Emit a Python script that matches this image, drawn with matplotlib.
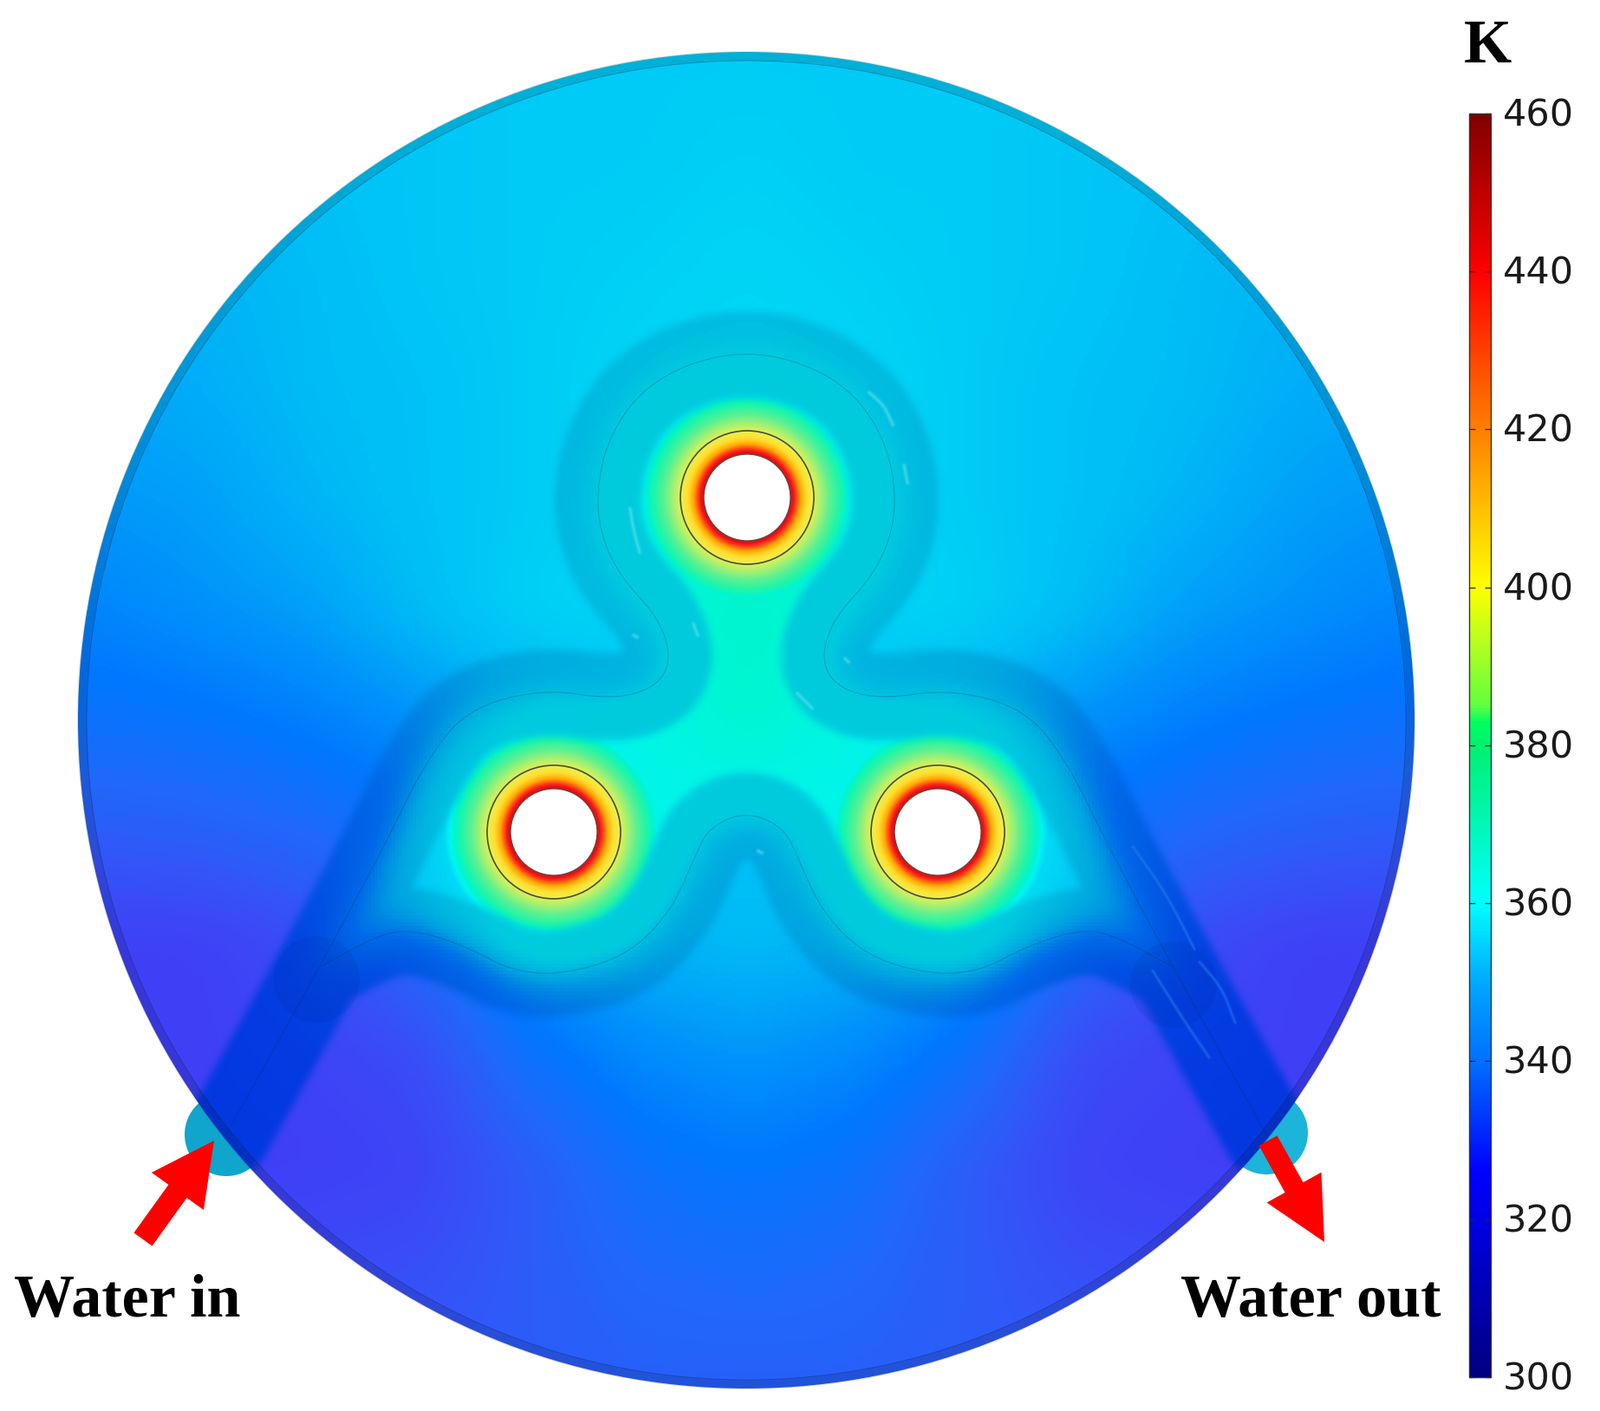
import numpy as np
import matplotlib
matplotlib.use("Agg")
import matplotlib.pyplot as plt
from matplotlib.colors import LinearSegmentedColormap, Normalize, to_rgb
from matplotlib.cm import ScalarMappable
from matplotlib.path import Path
from matplotlib.patches import Circle, Wedge, FancyArrow
from matplotlib.transforms import ScaledTranslation

W, H = 1846, 1628
DPI = 100
T_MIN, T_MAX = 300, 460

grid_x = [93, 221, 349, 477, 605, 733, 861, 989, 1117, 1245, 1373, 1501, 1629]
grid_y = [63, 191, 319, 447, 575, 703, 831, 959, 1087, 1215, 1343, 1471, 1599]
grid_t = [
    [350, 351, 352, 352, 353, 353, 353, 353, 353, 352, 352, 351, 350],
    [349, 350, 351, 352, 353, 353, 354, 353, 353, 352, 351, 350, 349],
    [348, 349, 350, 352, 353, 354, 355, 354, 353, 352, 350, 349, 348],
    [347, 348, 350, 351, 353, 355, 356, 355, 353, 351, 350, 348, 347],
    [345, 346, 349, 351, 353, 355, 356, 355, 353, 351, 349, 346, 345],
    [342, 344, 346, 350, 354, 355, 356, 355, 354, 350, 346, 344, 342],
    [338, 339, 341, 344, 348, 350, 352, 350, 348, 344, 341, 339, 338],
    [332, 333, 335, 338, 346, 351, 351, 351, 346, 338, 335, 333, 332],
    [325, 325, 328, 335, 345, 349, 350, 349, 345, 335, 328, 325, 325],
    [325, 325, 326, 328, 338, 343, 345, 343, 338, 328, 326, 325, 325],
    [327, 325, 325, 326, 332, 338, 340, 338, 332, 326, 325, 325, 327],
    [329, 328, 328, 329, 332, 335, 336, 335, 332, 329, 328, 328, 329],
    [331, 331, 331, 332, 332, 333, 333, 333, 332, 332, 331, 331, 331],
]

# temperature inside the channel loop, K
inner_x = [349, 477, 605, 733, 861, 989, 1117, 1245, 1373]
inner_y = [447, 575, 703, 831, 959, 1087, 1215]
inner_t = [
    [354, 358, 360, 361, 361, 361, 360, 358, 354],
    [354, 358, 361, 362, 363, 362, 361, 358, 354],
    [352, 357, 361, 363, 366, 363, 361, 357, 352],
    [346, 354, 359, 362, 365, 362, 359, 354, 346],
    [340, 354, 361, 362, 360, 362, 361, 354, 340],
    [338, 350, 362, 362, 356, 362, 362, 350, 338],
    [336, 346, 358, 358, 354, 358, 358, 346, 336],
]

# radial temperature around each heater hole
heater_x = [862, 639, 1082]
heater_y = [574, 960, 960]
heater_r = [51, 54, 58, 62, 67, 72, 77, 85, 95, 105, 115, 128, 150]
heater_t = [450, 442, 430, 418, 408, 402, 397, 388, 378, 371, 365, 355, 325]

# cooling channel centre lines, left half (mirrored about the plate axis)
main_pipe_left = [(261, 1309), (350, 1150), (440, 983), (490, 880), (540, 817), (627, 795),
                  (707, 807), (757, 793), (775, 760), (760, 713), (717, 667), (694, 620), (688, 570),
                  (700, 510), (735, 455), (790, 420), (861, 405)]
lower_pipe_left = [(370, 1115), (440, 1077), (480, 1073), (540, 1093), (590, 1120), (647, 1125),
                   (723, 1103), (773, 1053), (800, 993), (817, 955), (861, 936)]

# light streaks in the channel flow, picture pixels
streak_x = [[1003, 1020, 1030], [1043, 1047], [727, 731, 738], [800, 805], [920, 937], [975, 979], [731, 735], [875, 879]]
streak_y = [[453, 468, 490], [537, 557], [587, 612, 637], [720, 733], [800, 817], [760, 764], [733, 735], [982, 984]]
low_streak_x = [[1307, 1345, 1378], [1384, 1410, 1425], [1330, 1365, 1395]]
low_streak_y = [[977, 1030, 1095], [1110, 1140, 1180], [1120, 1176, 1220]]

# colour scales
bar_t = [300, 320, 326, 340, 350, 360, 380, 383, 385, 400, 420, 440, 460]
bar_c = ['#000080', '#0000e6', '#0000ff', '#0070ff', '#00a8ff', '#00ffff', '#00f070', '#00ff60',
         '#60ff40', '#ffff00', '#ff8000', '#ff0000', '#800000']
plate_t = [300, 325, 330, 335, 340, 345, 350, 353, 357, 361, 365, 370, 378, 388, 398, 405, 420, 437, 445, 460]
plate_c = ['#202080', '#4040f6', '#3554f8', '#2068fa', '#0078ff', '#0098fa', '#00bcf6', '#00ccf6',
           '#00e0f5', '#00f5f0', '#00f5d0', '#20f5a8', '#60f090', '#a8f070', '#e8f050', '#ffe030',
           '#ffa000', '#ff3020', '#f01010', '#a02020']

ticks = [300, 320, 340, 360, 380, 400, 420, 440, 460]


def scale(ts, cs, k=(1, 1, 1)):
    pos = (np.array(ts) - T_MIN) / (T_MAX - T_MIN)
    rgb = [tuple(a * b for a, b in zip(to_rgb(c), k)) for c in cs]
    return LinearSegmentedColormap.from_list('s', list(zip(pos, rgb)), N=512)


def chaikin(pts, n=3):
    p = np.array(pts, float)
    for _ in range(n):
        q = 0.75 * p[:-1] + 0.25 * p[1:]
        r = 0.25 * p[:-1] + 0.75 * p[1:]
        mid = np.empty((2 * len(q), 2))
        mid[0::2] = q
        mid[1::2] = r
        p = np.vstack([p[:1], mid, p[-1:]])
    return p


def blur(a, k, passes=2):
    kern = np.ones(k) / k
    for _ in range(passes):
        a = np.apply_along_axis(lambda v: np.convolve(np.pad(v, k, mode='edge'), kern, 'same')[k:-k], 0, a)
        a = np.apply_along_axis(lambda v: np.convolve(np.pad(v, k, mode='edge'), kern, 'same')[k:-k], 1, a)
    return a


def table_field(xs, ys, table):
    fx = np.array([np.interp(np.arange(W)[::4], xs, row) for row in np.array(table, float)])
    f = np.array([np.interp(np.arange(H)[::4], ys, col) for col in fx.T]).T
    return f


def up(a, k):
    return np.repeat(np.repeat(a, k, axis=0), k, axis=1)[:H, :W]


def mirrored(left):
    right = [(1722 - x, y) for x, y in left[-2::-1]]
    return chaikin(left + right)


main_pipe = mirrored(main_pipe_left)
lower_pipe = mirrored(lower_pipe_left)

# channel mask, drawn off screen so that it can be softened
fig_m = plt.figure(figsize=(W / DPI, H / DPI), dpi=DPI)
ax_m = fig_m.add_axes([0, 0, 1, 1])
ax_m.set_xlim(0, W)
ax_m.set_ylim(H, 0)
ax_m.axis('off')
for p in (main_pipe, lower_pipe):
    ax_m.plot(p[:, 0], p[:, 1], color='k', lw=100 * 72 / DPI, solid_capstyle='round', solid_joinstyle='round')
fig_m.canvas.draw()
mask = 1 - np.asarray(fig_m.canvas.buffer_rgba())[:, :, 0] / 255.0
plt.close(fig_m)
mask = up(blur(mask[::2, ::2], 5), 2)

# temperature on the pixel grid: outer plate and loop interior meet under the channel
xx, yy = np.meshgrid(np.arange(W) + 0.5, np.arange(H) + 0.5)
outer = blur(table_field(grid_x, grid_y, grid_t), 15)
inner = blur(table_field(inner_x, inner_y, inner_t), 15)
loop = Path(np.vstack([main_pipe[(main_pipe[:, 0] > 330) & (main_pipe[:, 0] < 1392)],
                       lower_pipe[::-1]]))
inside = loop.contains_points(np.column_stack([xx[::4, ::4].ravel(), yy[::4, ::4].ravel()]))
inside = inside.reshape(xx[::4, ::4].shape).astype(float)
base = outer * (1 - blur(inside, 5)) + inner * blur(inside, 5)
# under the channel the plate is seen through the water, so its step is washed out
pipe_t = np.minimum(up(blur(base, 11), 4), 358)
field = up(base, 4)
for hx, hy in zip(heater_x, heater_y):
    r = np.hypot(xx - hx, yy - hy)
    field = np.maximum(field, np.interp(r, heater_r, heater_t))

norm = Normalize(T_MIN, T_MAX)
plate_cmap = scale(plate_t, plate_c)
pipe_cmap = scale(plate_t, plate_c, k=(0, 0.88, 0.91))
bar_cmap = scale(bar_t, bar_c)

fig = plt.figure(figsize=(W / DPI, H / DPI), dpi=DPI, facecolor='white')
ax = fig.add_axes([0, 0, 1, 1])
ax.set_xlim(0, W)
ax.set_ylim(H, 0)
ax.axis('off')

# inlet / outlet stubs behind the plate
ax.add_patch(Circle((261, 1309), 48, fc='#10a5cc', ec='none', zorder=1))
ax.add_patch(Circle((1461, 1307), 48, fc='#1cb4d8', ec='none', zorder=1))

disk = Circle((861, 831), 771, fc='none', ec='none', transform=ax.transData)
ax.add_patch(disk)
ext = (0, W, H, 0)
im = ax.imshow(field, extent=ext, cmap=plate_cmap, norm=norm, interpolation='nearest', zorder=2, aspect='auto')
im.set_clip_path(disk)
im2 = ax.imshow(pipe_t, extent=ext, cmap=pipe_cmap, norm=norm, alpha=0.95 * mask,
                interpolation='nearest', zorder=3, aspect='auto')
im2.set_clip_path(disk)
ax.set_xlim(0, W)
ax.set_ylim(H, 0)

for p in (main_pipe, lower_pipe):
    ln, = ax.plot(p[:, 0], p[:, 1], color='#003050', alpha=0.25, lw=0.8, zorder=4)
    ln.set_clip_path(disk)

# junction bulbs where the loop leaves the straight legs
for cx, cy in [(365, 1130), (1354, 1136)]:
    ax.add_patch(Circle((cx, cy), 50, fc='#001060', alpha=0.07, ec='none', zorder=4))

# flow streaks
for sx, sy in zip(streak_x, streak_y):
    s = chaikin(list(zip(sx, sy)))
    ax.plot(s[:, 0], s[:, 1], color='#70ecf4', alpha=0.18, lw=4.5, solid_capstyle='round', zorder=4)
    ax.plot(s[:, 0], s[:, 1], color='#70ecf4', alpha=0.35, lw=1.8, solid_capstyle='round', zorder=4)
for sx, sy in zip(low_streak_x, low_streak_y):
    s = chaikin(list(zip(sx, sy)))
    ax.plot(s[:, 0], s[:, 1], color='#2c80f0', alpha=0.2, lw=3.5, solid_capstyle='round', zorder=4)
    ax.plot(s[:, 0], s[:, 1], color='#2c80f0', alpha=0.4, lw=1.4, solid_capstyle='round', zorder=4)

# rim of the plate
ax.add_patch(Wedge((861, 831), 772, 0, 360, width=11, fc='k', alpha=0.13, ec='none', zorder=5))
ax.add_patch(Circle((861, 831), 761, fc='none', ec='#002050', alpha=0.3, lw=0.7, zorder=5))

# heater holes
for hx, hy in zip(heater_x, heater_y):
    ax.add_patch(Circle((hx, hy), 77, fc='none', ec='#303030', alpha=0.85, lw=1.2, zorder=6))
    ax.add_patch(Circle((hx, hy), 50, fc='white', ec='#704040', lw=1.0, zorder=6))

# flow arrows
ax.add_patch(FancyArrow(165, 1430, 82, -114, width=26, head_width=74, head_length=72,
                        length_includes_head=True, fc='#ff0000', ec='none', zorder=7))
ax.add_patch(FancyArrow(1463, 1316, 65, 117, width=24, head_width=72, head_length=72,
                        length_includes_head=True, fc='#ff0000', ec='none', zorder=7))

serif = 'Liberation Serif'
ax.text(16, 1519, 'Water in', family=serif, weight='bold', fontsize=50.5, ha='left', va='baseline', color='k', zorder=8)
ax.text(1362, 1519, 'Water out', family=serif, weight='bold', fontsize=50.5, ha='left', va='baseline', color='k', zorder=8)
ax.text(1689, 72, 'K', family=serif, weight='bold', fontsize=51, ha='left', va='baseline', color='k', zorder=8)

# colour bar
cax = fig.add_axes([1695 / W, 1 - 1589 / H, 25 / W, 1458 / H])
cb = fig.colorbar(ScalarMappable(norm=norm, cmap=bar_cmap), cax=cax, ticks=ticks)
cb.outline.set_edgecolor('#333333')
cb.outline.set_linewidth(1.0)
cax.tick_params(axis='y', which='both', left=True, right=True, direction='in', length=5, width=0.9,
                labelsize=31, labelcolor='#1a1a1a', pad=10, color='#222222')
shift = ScaledTranslation(0, -2.5 / DPI, fig.dpi_scale_trans)
for lab in cax.get_yticklabels():
    lab.set_va('center')
    lab.set_transform(lab.get_transform() + shift)

fig.savefig('out.png', dpi=DPI)
